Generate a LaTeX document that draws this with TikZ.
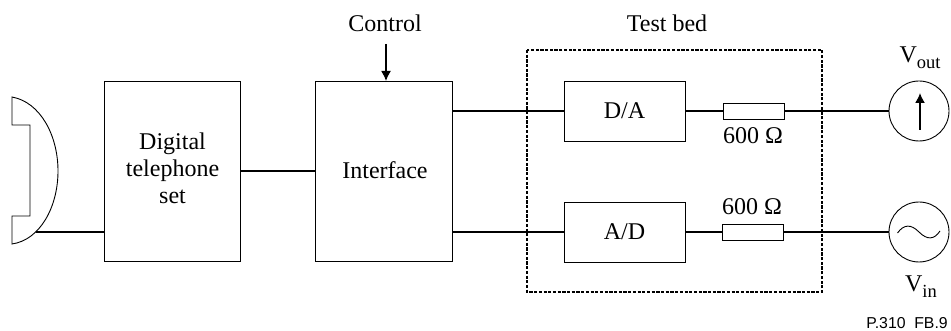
\documentclass[tikz,border=0pt]{standalone}
\usepackage{fontspec}
\setmainfont{Liberation Serif}
\newfontfamily\sansfig{Liberation Sans}
\usetikzlibrary{arrows.meta}
\newcommand{\lowpart}[1]{\raisebox{-6pt}{\fontsize{18.5}{18.5}\selectfont #1}}

\begin{document}
\begin{tikzpicture}[x=1pt,y=-1pt,
        every node/.style={font=\fontsize{24}{27}\selectfont, inner sep=0pt, outer sep=0pt},
        block/.style={draw, line width=0.9pt, align=center, text width=120pt},
        load/.style={draw, line width=0.9pt, minimum width=61pt, minimum height=16pt},
        source/.style={draw, circle, line width=0.9pt, minimum size=60pt},
        wire/.style={line width=1.5pt}]
    \useasboundingbox (0,0) rectangle (951,331);

    \node[block, minimum width=136pt, minimum height=180pt]  (set)   at (172,171)   {};
    \node[block, minimum width=137pt, minimum height=180pt]  (iface) at (383.5,171) {};
    \node[block, minimum width=121pt, minimum height=60pt]   (da)    at (624.5,111) {D/A};
    \node[block, minimum width=121pt, minimum height=60pt]   (ad)    at (624.5,232) {A/D};
    \node[load]   (r_out) at (753.5,111) {};
    \node[load]   (r_in)  at (752.5,232) {};
    \node[source] (v_out) at (919,111)   {};
    \node[source] (v_in)  at (919,232)   {};

    \node[align=center] (l_set) at (172.5,168) {Digital\\telephone\\set};
    \node (l_iface)  at (385,170)   {Interface};
    \node (control)  at (385,23.5)  {Control};
    \node (testbed)  at (667,23.5)  {Test bed};
    \node (l_rout)   at (753,136)   {600 Ω};
    \node (l_rin)    at (752,207)   {600 Ω};
    \node (l_vout)   at (920,58)    {V\lowpart{out}};
    \node (l_vin)    at (921,287)   {V\lowpart{in}};
    \node[font=\sansfig\fontsize{15.8}{18}\selectfont] (figno) at (907,323) {P.310\ \ FB.9};

    \coordinate (earpiece) at (36,232);
    \coordinate (ctrl_end) at (386,44);
    \coordinate (up_foot)  at (920,130);
    \coordinate (up_tip)   at (920,93);

    % handset
    \draw[line width=0.9pt] (12,97) .. controls (40,102) and (58,135) .. (58,171)
        .. controls (58,207) and (40,240) .. (12,244)
        -- (12,216) -- (30,216) -- (30,125) -- (12,125) -- cycle;

    % test bed frame
    \draw[line width=2.7pt, dash pattern=on 3.2pt off 1.5pt] (527,50) rectangle (822,292);

    \path[wire] (earpiece) edge (earpiece -| set.west);
    \path[wire] (set) edge (iface);
    \path[wire] (iface.east |- da) edge (da);
    \path[wire] (iface.east |- ad) edge (ad);
    \path[wire] (da) edge (r_out);
    \path[wire] (ad) edge (r_in);
    \path[wire] (r_out) edge (v_out);
    \path[wire] (r_in) edge (v_in);
    \draw[wire, -{Latex[length=10pt,width=10pt]}] (ctrl_end) -- (ctrl_end |- iface.north);
    \draw[wire, -{Latex[length=10pt,width=10pt]}] (up_foot) -- (up_tip);

    % sine in the source
    \draw[line width=0.9pt] (897.5,233) .. controls (904,224) and (911,224) .. (919,232)
        .. controls (927,240) and (934,240) .. (940,231);
\end{tikzpicture}
\end{document}
